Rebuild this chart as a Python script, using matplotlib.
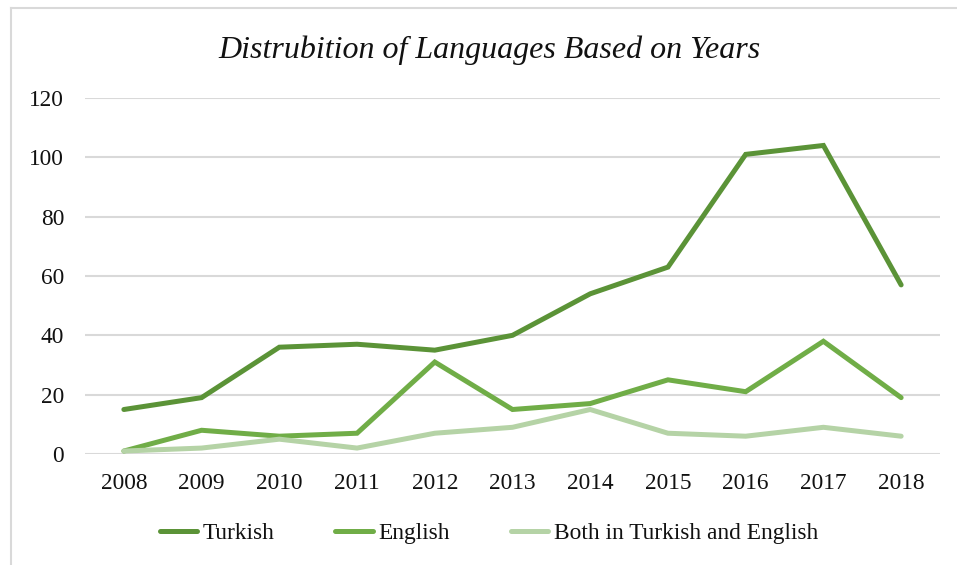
import matplotlib.pyplot as plt
import numpy as np

years = ['2008', '2009', '2010', '2011', '2012', '2013', '2014', '2015', '2016', '2017', '2018']
turkish = [15, 19, 36, 37, 35, 40, 54, 63, 101, 104, 57]
english = [1, 8, 6, 7, 31, 15, 17, 25, 21, 38, 19]
both = [1, 2, 5, 2, 7, 9, 15, 7, 6, 9, 6]

series_names = ['Turkish', 'English', 'Both in Turkish and English']
colors = ['#5B9337', '#70AD47', '#B5D3A6']

plt.rcParams['font.family'] = ['Liberation Serif', 'DejaVu Serif']

fig = plt.figure(figsize=(9.57, 5.65), dpi=100)
ax = fig.add_axes([85 / 957, 1 - 454 / 565, 855 / 957, 356 / 565])

x = np.arange(len(years))
for vals, name, col in zip([turkish, english, both], series_names, colors):
    ax.plot(x, vals, color=col, lw=3.6, label=name,
            solid_capstyle='round', solid_joinstyle='miter', zorder=3)

ax.set_xlim(-0.5, len(years) - 0.5)
ax.set_ylim(0, 120)
ax.set_yticks(np.arange(0, 121, 20))
ax.set_xticks(x)
ax.set_xticklabels(years)
ax.grid(axis='y', color='#D9D9D9', lw=1.5, zorder=0)
ax.set_axisbelow(True)
for s in ax.spines.values():
    s.set_visible(False)
ax.tick_params(length=0, labelsize=16.8, colors='#111111')
ax.tick_params(axis='y', pad=15)
ax.tick_params(axis='x', pad=14)

fig.text(489 / 957, 1 - 50 / 565, 'Distrubition of Languages Based on Years',
         ha='center', va='center', fontsize=23, style='italic', color='#111111')

leg = fig.legend(loc='center', bbox_to_anchor=(489 / 957, 1 - 533 / 565), ncol=3,
                 frameon=False, fontsize=16.8, handlelength=1.6, handletextpad=0.25,
                 columnspacing=2.6)
for t in leg.get_texts():
    t.set_color('#111111')

# outer chart border (light gray, only top and left visible)
fig.add_artist(plt.Line2D([10.5 / 957, 10.5 / 957], [0, 1 - 8 / 565],
                          transform=fig.transFigure, color='#D9D9D9', lw=1.5))
fig.add_artist(plt.Line2D([10.5 / 957, 1], [1 - 8 / 565, 1 - 8 / 565],
                          transform=fig.transFigure, color='#D9D9D9', lw=1.5))

fig.savefig('out.png', dpi=100)
